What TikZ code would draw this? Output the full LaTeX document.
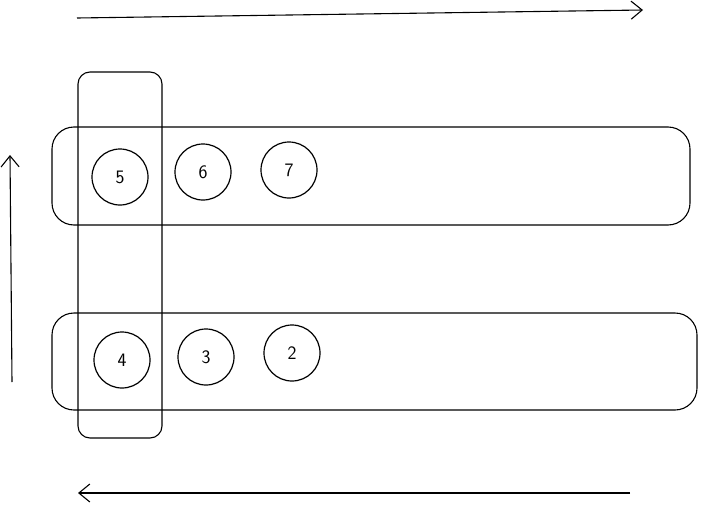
\documentclass[tikz,border=0pt]{standalone}
\usepackage{tikz}
\usetikzlibrary{arrows.meta, positioning, shapes.geometric}

\tikzset{
    ball/.style={draw, circle, line width=1.2pt, minimum size=56pt, inner sep=0pt, font=\sffamily\fontsize{19}{22}\selectfont},
    lane/.style={draw, line width=1.1pt, rounded corners=22pt, inner sep=0pt},
    flow/.style={line width=1.1pt, -{Straight Barb[length=11pt, width=18pt, line width=1.1pt]}}
}

\begin{document}
\begin{tikzpicture}[x=1pt, y=-1pt]
    \useasboundingbox (0,0) rectangle (707,506);

    % Horizontal lanes
    \node[lane, minimum width=638pt, minimum height=98pt] (toplane) at (371,176) {};
    \node[lane, minimum width=645pt, minimum height=97pt] (botlane) at (374.5,361.5) {};

    % Vertical column
    \node[lane, rounded corners=12pt, minimum width=84pt, minimum height=366pt] (column) at (120,255) {};

    % Top row
    \node[ball] (b5) at (120,177) {5};
    \node[ball] (b6) at (203,172) {6};
    \node[ball] (b7) at (289,170) {7};

    % Bottom row
    \node[ball] (b4) at (122,360) {4};
    \node[ball] (b3) at (206,357) {3};
    \node[ball] (b2) at (292,353) {2};

    % Direction arrows
    \coordinate (topstart) at (77,18);
    \coordinate (topend) at (643,10);
    \coordinate (leftstart) at (12,382);
    \coordinate (leftend) at (10,155);
    \coordinate (botstart) at (630,493);
    \coordinate (botend) at (78,493);

    \draw[flow] (topstart) -- (topend);
    \draw[flow] (leftstart) -- (leftend);
    \draw[flow] (botstart) -- (botend);
\end{tikzpicture}
\end{document}
